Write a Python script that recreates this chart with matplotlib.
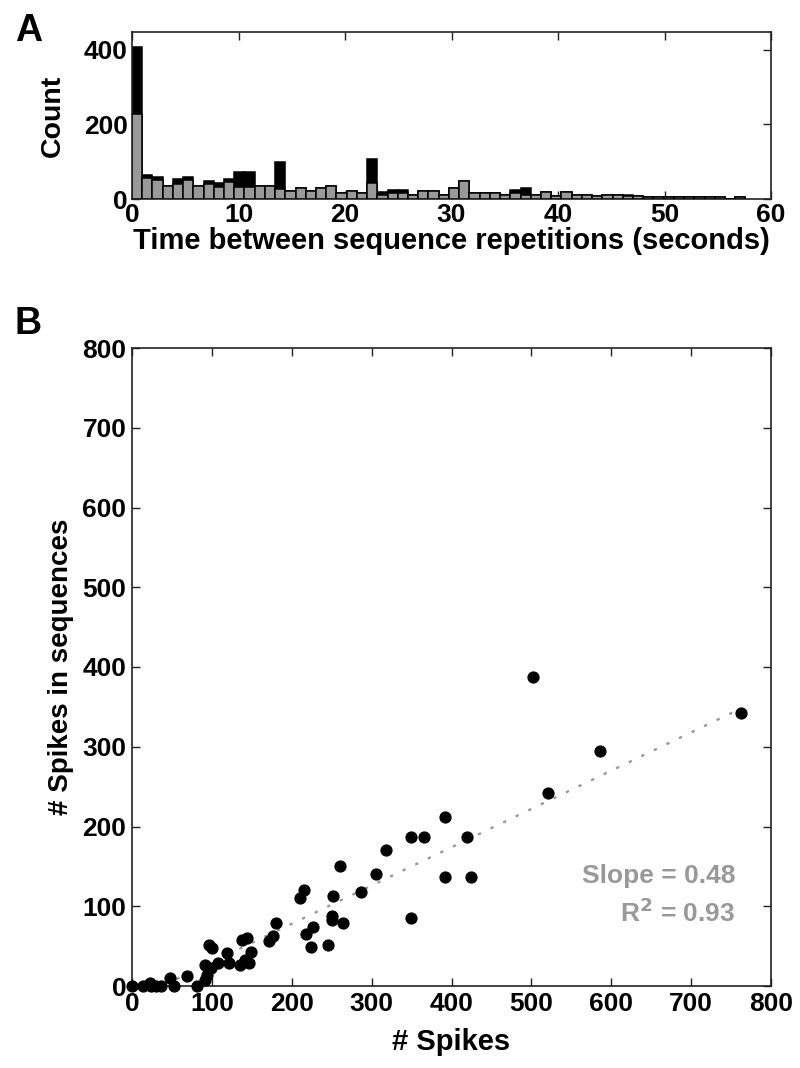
import numpy as np
import matplotlib
matplotlib.use("Agg")
import matplotlib.pyplot as plt

# ---------------- data ----------------
# Panel A: histogram of time between sequence repetitions (60 bins)
bin_width = 0.96
gray_counts = [227, 57, 51, 36, 40, 51, 36, 40, 33, 45, 33, 33, 36, 36, 27, 22, 29, 22, 29, 36,
               17, 22, 17, 44, 10, 15, 15, 12, 22, 22, 12, 30, 48, 17, 17, 17, 12, 15, 11, 12,
               18, 7, 18, 12, 12, 7, 12, 12, 7, 7, 5, 5, 5, 5, 5, 5, 5, 5, 0, 5]
total_counts = [408, 64, 60, 36, 53, 60, 36, 48, 42, 54, 72, 72, 36, 36, 100, 22, 29, 22, 29, 36,
                17, 22, 17, 107, 18, 24, 24, 12, 22, 22, 12, 30, 48, 17, 17, 17, 12, 24, 30, 12,
                18, 7, 18, 12, 12, 7, 12, 12, 12, 7, 5, 5, 5, 5, 5, 5, 5, 5, 0, 5]
hist_xticks = [0, 10, 20, 30, 40, 50, 60]
hist_yticks = [0, 200, 400]

# Panel B: spikes vs spikes in sequences
n_spikes = [0, 14, 22, 24, 30, 36, 47, 53, 69, 82, 92, 94, 92, 99, 97, 100, 108, 119, 122, 135,
            141, 147, 138, 144, 149, 171, 177, 180, 210, 215, 218, 224, 227, 246, 251, 251, 252,
            260, 264, 287, 306, 318, 349, 365, 349, 392, 392, 419, 425, 502, 521, 586, 763]
n_in_seq = [0, 0, 4, 0, 0, 0, 10, 0, 13, 0, 7, 14, 26, 22, 51, 48, 29, 41, 29, 26,
            33, 29, 58, 60, 43, 57, 63, 79, 110, 120, 65, 49, 74, 51, 88, 83, 113,
            151, 79, 118, 140, 170, 187, 187, 85, 212, 137, 187, 137, 387, 242, 295, 342]
fit_slope = 0.48
fit_intercept = -18.0
fit_x_range = [40, 763]
scatter_ticks = [0, 100, 200, 300, 400, 500, 600, 700, 800]

# ---------------- style ----------------
W, H = 800, 1068
fig = plt.figure(figsize=(W / 100, H / 100), dpi=100)
label_font = dict(family=['Liberation Sans', 'DejaVu Sans'], weight='bold')
tick_family = ['Liberation Sans Narrow', 'Liberation Sans', 'DejaVu Sans']
GRAY = '#999999'
AX_COLOR = '#222222'

def style_axes(ax, pad=4):
    for s in ax.spines.values():
        s.set_linewidth(1.2)
        s.set_color(AX_COLOR)
    ax.tick_params(direction='in', top=True, right=True, length=6, width=1.0,
                   color=AX_COLOR, labelsize=19, pad=pad)
    for lab in ax.get_xticklabels() + ax.get_yticklabels():
        lab.set_fontfamily(tick_family)
        lab.set_fontweight('bold')

# ---------------- Panel A ----------------
axA = fig.add_axes([132 / W, 1 - 199 / H, 639 / W, 167 / H])
edges = np.arange(len(gray_counts) + 1) * bin_width
lefts = edges[:-1]
axA.bar(lefts, total_counts, width=bin_width, align='edge', color='black',
        edgecolor='black', linewidth=1.1, zorder=2)
axA.bar(lefts, gray_counts, width=bin_width, align='edge', color=GRAY,
        edgecolor='black', linewidth=1.1, zorder=3)
axA.set_xlim(0, 60)
axA.set_ylim(0, 448)
axA.set_xticks(hist_xticks)
axA.set_yticks(hist_yticks)
style_axes(axA, pad=3)
axA.set_xlabel('Time between sequence repetitions (seconds)', fontsize=21, labelpad=0, **label_font)
axA.set_ylabel('Count', fontsize=20.5, labelpad=13, **label_font)
fig.text(29 / W, 1 - 31 / H, 'A', fontsize=27, ha='center', va='center', **label_font)

# ---------------- Panel B ----------------
axB = fig.add_axes([132 / W, 1 - 986 / H, 639 / W, 638 / H])
fx = np.array(fit_x_range, dtype=float)
axB.plot(fx, fit_slope * fx + fit_intercept, color=GRAY, linewidth=1.7,
         linestyle=(0, (1.4, 4.5)), zorder=2)
axB.plot(n_spikes, n_in_seq, 'o', color='black', markersize=7.8, zorder=3,
         clip_on=False)
axB.set_xlim(0, 800)
axB.set_ylim(0, 800)
axB.set_xticks(scatter_ticks)
axB.set_yticks(scatter_ticks)
style_axes(axB)
axB.set_xlabel('# Spikes', fontsize=21, labelpad=9, **label_font)
axB.set_ylabel('# Spikes in sequences', fontsize=20, labelpad=6, **label_font)
axB.text(755, 138, 'Slope = 0.48', color=GRAY, fontsize=19, ha='right', va='center', **label_font)
axB.text(755, 92, r'R$^{\mathbf{2}}$ = 0.93', color=GRAY, fontsize=19, ha='right', va='center', **label_font)
fig.text(28.5 / W, 1 - 324 / H, 'B', fontsize=27, ha='center', va='center', **label_font)

fig.savefig('out.png', dpi=100)
